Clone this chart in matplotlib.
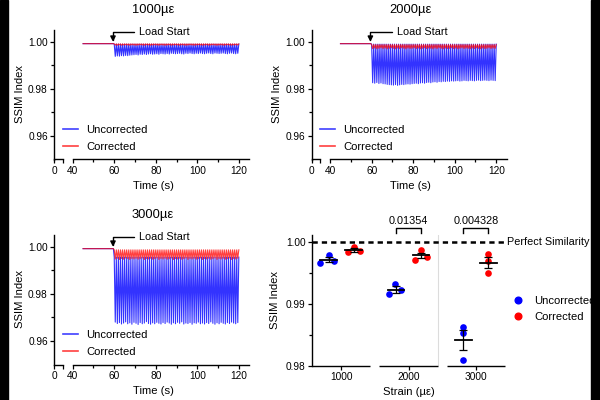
import matplotlib
matplotlib.use('Agg')
import matplotlib.pyplot as plt
import numpy as np
from matplotlib.patches import Rectangle
from matplotlib.lines import Line2D

plt.rcParams['font.family'] = ['Liberation Sans', 'DejaVu Sans']
plt.rcParams['lines.scale_dashes'] = False

# ---------------- data ----------------
panel_titles = ['1000µε', '2000µε', '3000µε']
series_names = ['Uncorrected', 'Corrected']
pre_load_level = [0.9992, 0.9992, 0.9992]
pre_load_start = 45.0
load_start = 60.0
unc_peak = [0.9990, 0.9990, 0.9956]
cor_peak = [0.9991, 0.9988, 0.9987]

unc_trough_1000 = [0.9938, 0.9940, 0.9939, 0.9941, 0.9940, 0.9942, 0.9941, 0.9943, 0.9944, 0.9945,
                   0.9946, 0.9944, 0.9947, 0.9946, 0.9948, 0.9946, 0.9948, 0.9949, 0.9947, 0.9948,
                   0.9949, 0.9947, 0.9950, 0.9949, 0.9948, 0.9950, 0.9948, 0.9951, 0.9950, 0.9949,
                   0.9950, 0.9951, 0.9949, 0.9948, 0.9951, 0.9950, 0.9952, 0.9950, 0.9949, 0.9951,
                   0.9950, 0.9952, 0.9950, 0.9949, 0.9951, 0.9952, 0.9950, 0.9949, 0.9952, 0.9951,
                   0.9950, 0.9951, 0.9952, 0.9950, 0.9949, 0.9951, 0.9952, 0.9950, 0.9949, 0.9951]
cor_trough_1000 = [0.9986, 0.9985, 0.9987, 0.9985, 0.9986, 0.9987, 0.9986, 0.9985, 0.9987, 0.9986,
                   0.9985, 0.9986, 0.9987, 0.9986, 0.9985, 0.9987, 0.9986, 0.9985, 0.9986, 0.9987,
                   0.9986, 0.9985, 0.9987, 0.9986, 0.9985, 0.9986, 0.9987, 0.9985, 0.9986, 0.9987,
                   0.9986, 0.9985, 0.9987, 0.9986, 0.9985, 0.9986, 0.9987, 0.9986, 0.9985, 0.9986,
                   0.9987, 0.9986, 0.9985, 0.9986, 0.9987, 0.9985, 0.9986, 0.9987, 0.9986, 0.9985,
                   0.9986, 0.9987, 0.9985, 0.9986, 0.9987, 0.9986, 0.9985, 0.9986, 0.9987, 0.9986]
unc_trough_2000 = [0.9826, 0.9824, 0.9827, 0.9823, 0.9825, 0.9822, 0.9821, 0.9819, 0.9818, 0.9817,
                   0.9816, 0.9818, 0.9815, 0.9817, 0.9819, 0.9818, 0.9820, 0.9821, 0.9820, 0.9822,
                   0.9823, 0.9824, 0.9822, 0.9825, 0.9826, 0.9824, 0.9827, 0.9828, 0.9826, 0.9829,
                   0.9830, 0.9828, 0.9831, 0.9830, 0.9832, 0.9831, 0.9833, 0.9832, 0.9834, 0.9833,
                   0.9834, 0.9835, 0.9833, 0.9834, 0.9836, 0.9835, 0.9834, 0.9836, 0.9835, 0.9834,
                   0.9836, 0.9837, 0.9835, 0.9836, 0.9837, 0.9836, 0.9835, 0.9837, 0.9836, 0.9835]
cor_trough_2000 = [0.9971, 0.9973, 0.9970, 0.9972, 0.9974, 0.9971, 0.9973, 0.9970, 0.9972, 0.9974,
                   0.9972, 0.9970, 0.9973, 0.9971, 0.9974, 0.9972, 0.9970, 0.9973, 0.9971, 0.9972,
                   0.9974, 0.9971, 0.9973, 0.9970, 0.9972, 0.9974, 0.9971, 0.9973, 0.9972, 0.9970,
                   0.9973, 0.9971, 0.9974, 0.9972, 0.9970, 0.9973, 0.9971, 0.9972, 0.9974, 0.9971,
                   0.9973, 0.9970, 0.9972, 0.9974, 0.9971, 0.9973, 0.9972, 0.9970, 0.9973, 0.9971,
                   0.9974, 0.9972, 0.9970, 0.9973, 0.9971, 0.9972, 0.9974, 0.9971, 0.9973, 0.9972]
unc_trough_3000 = [0.9680, 0.9674, 0.9678, 0.9672, 0.9676, 0.9681, 0.9673, 0.9677, 0.9671, 0.9679,
                   0.9675, 0.9670, 0.9678, 0.9673, 0.9676, 0.9682, 0.9674, 0.9671, 0.9677, 0.9673,
                   0.9679, 0.9675, 0.9672, 0.9678, 0.9674, 0.9680, 0.9676, 0.9671, 0.9677, 0.9673,
                   0.9679, 0.9675, 0.9681, 0.9672, 0.9676, 0.9674, 0.9678, 0.9671, 0.9677, 0.9675,
                   0.9680, 0.9673, 0.9676, 0.9672, 0.9678, 0.9674, 0.9681, 0.9675, 0.9671, 0.9677,
                   0.9673, 0.9679, 0.9675, 0.9672, 0.9678, 0.9674, 0.9680, 0.9676, 0.9673, 0.9678]
cor_trough_3000 = [0.9948, 0.9951, 0.9946, 0.9950, 0.9947, 0.9952, 0.9949, 0.9946, 0.9950, 0.9948,
                   0.9951, 0.9947, 0.9949, 0.9952, 0.9946, 0.9950, 0.9948, 0.9951, 0.9947, 0.9949,
                   0.9952, 0.9946, 0.9950, 0.9948, 0.9951, 0.9947, 0.9949, 0.9952, 0.9946, 0.9950,
                   0.9948, 0.9951, 0.9947, 0.9949, 0.9952, 0.9946, 0.9950, 0.9948, 0.9951, 0.9947,
                   0.9949, 0.9952, 0.9946, 0.9950, 0.9948, 0.9951, 0.9947, 0.9949, 0.9952, 0.9946,
                   0.9950, 0.9948, 0.9951, 0.9947, 0.9949, 0.9952, 0.9946, 0.9950, 0.9948, 0.9951]

strain_labels = ['1000', '2000', '3000']
unc_1000 = [0.9966, 0.9979, 0.9969]
cor_1000 = [0.9983, 0.9992, 0.9985]
unc_2000 = [0.9915, 0.9932, 0.9922]
cor_2000 = [0.9971, 0.9987, 0.9976]
unc_3000 = [0.9863, 0.9852, 0.9809]
cor_3000 = [0.9980, 0.9969, 0.9950]
p_values = ['0.01354', '0.004328']

# ---------------- styling ----------------
BLUE = '#0000ff'
RED = '#ff0000'
TICK_FS = 7.3
LAB_FS = 7.8
TITLE_FS = 9.3
W, H = 600, 400

fig = plt.figure(figsize=(6, 4), dpi=100)
fig.patch.set_facecolor('white')


def fx(px):
    return px / W


def fy(py):
    return 1 - py / H


def wave(pre, peak, troughs):
    t = [pre_load_start, load_start - 0.4]
    y = [pre, pre]
    for i, tr in enumerate(troughs):
        t += [load_start + i, load_start + i + 0.5]
        y += [peak, tr]
    t.append(load_start + len(troughs))
    y.append(peak)
    return t, y


def style_ticks(ax):
    ax.tick_params(which='major', length=3.2, width=0.9, labelsize=TICK_FS, pad=1.5, color='black')
    ax.tick_params(which='minor', length=2.2, width=0.9, color='black')
    for s in ax.spines.values():
        s.set_linewidth(1.0)


def time_panel(x0, top, idx, unc_tr, cor_tr):
    hpx = 129.5
    bottom = top + hpx
    ylim = (0.95, 1.005)
    axb = fig.add_axes([fx(x0), fy(bottom), fx(8.7), hpx / H])
    ax = fig.add_axes([fx(x0 + 18.4), fy(bottom), fx(176.5), hpx / H])
    for a in (axb, ax):
        a.set_ylim(*ylim)
        a.spines['top'].set_visible(False)
        a.spines['right'].set_visible(False)
        a.patch.set_alpha(0)
        style_ticks(a)
    axb.set_xlim(0, 10)
    axb.set_xticks([0, 10])
    axb.set_xticklabels(['0', ''])
    axb.set_yticks([0.96, 0.98, 1.00])
    axb.set_yticklabels(['0.96', '0.98', '1.00'])
    axb.set_yticks([0.97, 0.99], minor=True)
    ax.spines['left'].set_visible(False)
    ax.set_yticks([])
    ax.set_xlim(40, 125)
    ax.set_xticks([40, 60, 80, 100, 120])
    ax.set_xticks([50, 70, 90, 110], minor=True)

    tu, yu = wave(pre_load_level[idx], unc_peak[idx], unc_tr)
    tc, yc = wave(pre_load_level[idx], cor_peak[idx], cor_tr)
    ax.plot(tu, yu, color=BLUE, lw=0.8, alpha=0.8, label=series_names[0])
    ax.plot(tc, yc, color=RED, lw=0.8, alpha=0.75, label=series_names[1])

    # Load start annotation
    ax.annotate('Load Start', xy=(59.4, 0.99995), xytext=(72.0, 1.0041),
                fontsize=LAB_FS, ha='left', va='center', annotation_clip=False,
                arrowprops=dict(arrowstyle='-|>,head_length=0.4,head_width=0.2', color='black', lw=1.0,
                                shrinkA=1.5, shrinkB=0,
                                connectionstyle='angle,angleA=180,angleB=90,rad=0'))

    cx = x0 + 98.7
    fig.text(fx(cx), fy(top - 20), panel_titles[idx], fontsize=TITLE_FS, ha='center', va='center')
    fig.text(fx(cx), fy(bottom + 26.5), 'Time (s)', fontsize=LAB_FS + 0.3, ha='center', va='center')
    fig.text(fx(x0 - 34.3), fy(top + 64), 'SSIM Index', fontsize=LAB_FS + 0.3, rotation=90,
             ha='center', va='center')
    leg_handles = [Line2D([], [], color=BLUE, lw=1.2, alpha=0.75),
                   Line2D([], [], color=RED, lw=1.2, alpha=0.75)]
    ax.legend(leg_handles, series_names, loc='center left',
              bbox_to_anchor=(fx(x0 + 8.7), fy(top + 108.5)), bbox_transform=fig.transFigure,
              frameon=False, fontsize=LAB_FS + 0.3, handlelength=1.3, handletextpad=0.75,
              borderpad=0, borderaxespad=0, labelspacing=0.55)


time_panel(54.3, 30, 0, unc_trough_1000, cor_trough_1000)
time_panel(311.7, 30, 1, unc_trough_2000, cor_trough_2000)
time_panel(54.3, 235, 2, unc_trough_3000, cor_trough_3000)

# ---------------- scatter panel ----------------
top4, bot4 = 235, 365.7
ax4 = fig.add_axes([fx(312), fy(bot4), fx(193), (bot4 - top4) / H])
ax4.patch.set_alpha(0)
ax4.set_xlim(-0.43, 2.43)
ax4.set_ylim(0.98, 1.0011)
for s in ('top', 'right', 'bottom'):
    ax4.spines[s].set_visible(False)
style_ticks(ax4)
ax4.set_yticks([0.98, 0.99, 1.00])
ax4.set_yticklabels(['0.98', '0.99', '1.00'])
ax4.set_yticks([0.985, 0.995], minor=True)
ax4.set_xticks([0, 1, 2])
ax4.set_xticklabels(strain_labels)

# broken x axis segments
for g in range(3):
    ax4.plot([g - 0.43, g + 0.43], [0.98, 0.98], color='black', lw=1.0, clip_on=False,
             solid_capstyle='butt', zorder=5)
ax4.plot([1.437, 1.437], [0.98, 1.0011], color='#dcdcdc', lw=0.8, zorder=0)

# perfect similarity
ax4.plot([-0.43, 2.43], [1.0, 1.0], color='black', lw=1.8, dashes=(3.8, 2.9), zorder=3)
ax4.text(2.46, 1.0, 'Perfect Similarity', fontsize=LAB_FS, ha='left', va='center')

unc_groups = [unc_1000, unc_2000, unc_3000]
cor_groups = [cor_1000, cor_2000, cor_3000]
offset = 0.185
jit_u = [[-0.123, 0.0, 0.079], [-0.10, -0.015, 0.07], [0.0, 0.0, 0.0]]
jit_c = [[-0.079, 0.0, 0.093], [-0.084, 0.0, 0.089], [0.0, 0.0, 0.0]]
for g in range(3):
    for vals, jit, col, sgn in ((unc_groups[g], jit_u[g], BLUE, -1), (cor_groups[g], jit_c[g], RED, 1)):
        xc = g + sgn * offset
        v = np.array(vals)
        ax4.scatter(xc + np.array(jit), v, s=23, color=col, zorder=4, linewidths=0)
        m = v.mean()
        sem = v.std(ddof=1) / np.sqrt(len(v))
        ax4.plot([xc - 0.125, xc + 0.125], [m, m], color='black', lw=1.3, zorder=5)
        ax4.errorbar([xc], [m], yerr=[sem], fmt='none', ecolor='black', elinewidth=0.9,
                     capsize=2.6, capthick=0.9, zorder=5)

# significance brackets
for g, p in zip([1, 2], p_values):
    x1, x2 = g - offset, g + offset
    ax4.plot([x1, x1, x2, x2], [1.0014, 1.00226, 1.00226, 1.0014], color='black', lw=1.0,
             clip_on=False)
    ax4.text(g, 1.0034, p, fontsize=LAB_FS, ha='center', va='center')

fig.text(fx(275), fy(300), 'SSIM Index', fontsize=LAB_FS + 0.3, rotation=90, ha='center', va='center')
fig.text(fx(408.5), fy(392), 'Strain (µε)', fontsize=LAB_FS + 0.3, ha='center', va='center')

sc_handles = [Line2D([], [], ls='none', marker='o', ms=4.8, color=BLUE),
              Line2D([], [], ls='none', marker='o', ms=4.8, color=RED)]
ax4.legend(sc_handles, series_names, loc='center left', bbox_to_anchor=(fx(512.7), fy(309)),
           bbox_transform=fig.transFigure, frameon=False, fontsize=LAB_FS + 0.3,
           handlelength=1.0, handletextpad=0.9, borderpad=0, borderaxespad=0, labelspacing=0.55)

# black side bars of the original image
fig.patches.append(Rectangle((0, 0), fx(8.3), 1, transform=fig.transFigure, color='black', zorder=100))
fig.patches.append(Rectangle((fx(590.7), 0), 1 - fx(590.7), 1, transform=fig.transFigure,
                             color='black', zorder=100))

fig.savefig('out.png', dpi=100)
